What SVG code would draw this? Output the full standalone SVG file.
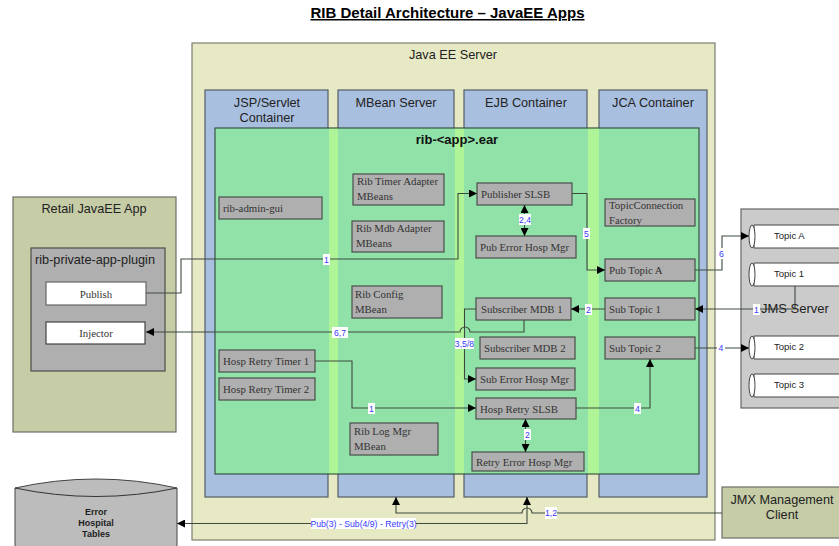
<svg xmlns="http://www.w3.org/2000/svg" width="839" height="546" viewBox="0 0 839 546">
<style>
text{font-family:"Liberation Sans",Arial,sans-serif;fill:#222}
.sv{font-size:12.700px;text-anchor:middle}
.b{fill:#afafaf;stroke:#4a4f4a;stroke-width:1.2}
.bt{font-family:"Liberation Serif","Times New Roman",serif;font-size:10.800px;fill:#333}
.ct{fill:#a9bfe0;stroke:#555e66;stroke-width:1.2}
.lb{fill:#fff}
.lt{font-size:8.700px;fill:#3a3aff;text-anchor:middle}
.c{fill:none;stroke:#3f4a3f;stroke-width:1.1}
.tp{font-size:9.500px}
</style>
<defs>
<marker id="a" markerWidth="9" markerHeight="8" refX="8" refY="4" orient="auto-start-reverse" markerUnits="userSpaceOnUse"><path d="M0 0L8 4L0 8Z" fill="#000"/></marker>
</defs>
<text x="447.500" y="18" style="font-size:15px;font-weight:bold;text-anchor:middle;text-decoration:underline;fill:#000">RIB Detail Architecture – JavaEE Apps</text>

<g id="retail-app"><rect x="13" y="197" width="163" height="235" fill="#c6cca6" stroke="#6c7066" stroke-width="1.2"/><text class="sv" x="94" y="213">Retail JavaEE App</text></g>
<g id="plugin"><rect x="31" y="248" width="134" height="123" class="b"/><text class="sv" x="95" y="264">rib-private-app-plugin</text></g>
<g id="publish"><rect x="46" y="282" width="100" height="23" fill="#fff" stroke="#666" stroke-width="1.2"/><text class="bt" x="96" y="298" text-anchor="middle">Publish</text></g>
<g id="injector"><rect x="46" y="322" width="99" height="22" fill="#fff" stroke="#444" stroke-width="1.2"/><text class="bt" x="96" y="337" text-anchor="middle">Injector</text></g>

<g id="java-ee-server"><rect x="192" y="43" width="523" height="497" fill="#e6e9c4" stroke="#7c7f70" stroke-width="1.2"/><text class="sv" x="453" y="59">Java EE Server</text></g>
<g id="jsp-container"><rect x="205" y="90" width="123" height="407" class="ct"/><text class="sv" x="267" y="107">JSP/Servlet</text><text class="sv" x="267" y="122">Container</text></g>
<g id="mbean-server"><rect x="338" y="90" width="116" height="407" class="ct"/><text class="sv" x="396" y="107">MBean Server</text></g>
<g id="ejb-container"><rect x="464" y="90" width="123" height="407" class="ct"/><text class="sv" x="526" y="107">EJB Container</text></g>
<g id="jca-container"><rect x="599" y="90" width="108" height="407" class="ct"/><text class="sv" x="653" y="107">JCA Container</text></g>
<g id="ear"><rect x="215" y="128" width="484" height="346" fill="#90e2a8"/>
<rect x="329" y="128" width="9" height="346" fill="#aff598"/><rect x="455" y="128" width="9" height="346" fill="#aff598"/><rect x="588" y="128" width="11" height="346" fill="#aff598"/>
<rect x="215" y="128" width="484" height="346" fill="none" stroke="#2f4a3a" stroke-width="1.1"/><text x="457" y="144" style="font-size:13px;font-weight:bold;text-anchor:middle;fill:#111">rib-&lt;app&gt;.ear</text></g>

<g id="rib-admin-gui"><rect x="219" y="197" width="103" height="22" class="b"/><text class="bt" x="223" y="212">rib-admin-gui</text></g>
<g id="hosp-timer-1"><rect x="219" y="350" width="96" height="22" class="b"/><text class="bt" x="223" y="365">Hosp Retry Timer 1</text></g>
<g id="hosp-timer-2"><rect x="219" y="378" width="96" height="22" class="b"/><text class="bt" x="223" y="393">Hosp Retry Timer 2</text></g>
<g id="timer-adapter"><rect x="353" y="174" width="91" height="31" class="b"/><text class="bt" x="357" y="185">Rib Timer Adapter</text><text class="bt" x="357" y="200">MBeans</text></g>
<g id="mdb-adapter"><rect x="352" y="221" width="92" height="31" class="b"/><text class="bt" x="356" y="232">Rib Mdb Adapter</text><text class="bt" x="356" y="247">MBeans</text></g>
<g id="config-mbean"><rect x="352" y="286" width="90" height="32" class="b"/><text class="bt" x="355" y="298">Rib Config</text><text class="bt" x="355" y="313">MBean</text></g>
<g id="log-mbean"><rect x="350" y="423" width="88" height="32" class="b"/><text class="bt" x="354" y="435">Rib Log Mgr</text><text class="bt" x="354" y="450">MBean</text></g>
<g id="publisher-slsb"><rect x="477" y="183" width="95" height="22" class="b"/><text class="bt" x="481" y="198">Publisher SLSB</text></g>
<g id="pub-error"><rect x="476" y="236" width="100" height="22" class="b"/><text class="bt" x="480" y="251">Pub Error Hosp Mgr</text></g>
<g id="subscriber-1"><rect x="476" y="298" width="95" height="22" class="b"/><text class="bt" x="481" y="313">Subscriber MDB 1</text></g>
<g id="subscriber-2"><rect x="480" y="337" width="95" height="22" class="b"/><text class="bt" x="484" y="352">Subscriber MDB 2</text></g>
<g id="sub-error"><rect x="476" y="368" width="99" height="22" class="b"/><text class="bt" x="480" y="383">Sub Error Hosp Mgr</text></g>
<g id="hosp-slsb"><rect x="476" y="398" width="100" height="21" class="b"/><text class="bt" x="480" y="413">Hosp Retry SLSB</text></g>
<g id="retry-error"><rect x="472" y="452" width="112" height="19" class="b"/><text class="bt" x="476" y="466">Retry Error Hosp Mgr</text></g>
<g id="tcf"><rect x="605" y="199" width="90" height="27" class="b"/><text class="bt" x="609" y="209">TopicConnection</text><text class="bt" x="609" y="224">Factory</text></g>
<g id="pub-topic-a"><rect x="605" y="259" width="90" height="22" class="b"/><text class="bt" x="609" y="274">Pub Topic A</text></g>
<g id="sub-topic-1"><rect x="605" y="298" width="90" height="22" class="b"/><text class="bt" x="609" y="313">Sub Topic 1</text></g>
<g id="sub-topic-2"><rect x="605" y="337" width="90" height="22" class="b"/><text class="bt" x="609" y="352">Sub Topic 2</text></g>

<g id="jms-server"><rect x="741" y="209" width="100" height="199" fill="#cbcbcb" stroke="#666" stroke-width="1.2"/></g>
<g id="topic-a"><path d="M754 225H841V248H754Z" fill="#fff" stroke="#444"/><ellipse cx="752" cy="236.500" rx="3" ry="11.500" fill="#fff" stroke="#444"/><text class="tp" x="774" y="239">Topic A</text></g>
<g id="topic-1"><path d="M754 263H841V286H754Z" fill="#fff" stroke="#444"/><ellipse cx="752" cy="274.500" rx="3" ry="11.500" fill="#fff" stroke="#444"/><text class="tp" x="774" y="277">Topic 1</text></g>
<g id="topic-2"><path d="M754 336H841V359H754Z" fill="#fff" stroke="#444"/><ellipse cx="752" cy="347.500" rx="3" ry="11.500" fill="#fff" stroke="#444"/><text class="tp" x="774" y="350">Topic 2</text></g>
<g id="topic-3"><path d="M754 374H841V397H754Z" fill="#fff" stroke="#444"/><ellipse cx="752" cy="385.500" rx="3" ry="11.500" fill="#fff" stroke="#444"/><text class="tp" x="774" y="388">Topic 3</text></g>

<g id="jmx-client"><rect x="722" y="487" width="120" height="51" fill="#c6cca6" stroke="#6c7066" stroke-width="1.2"/><text class="sv" x="782" y="504">JMX Management</text><text class="sv" x="782" y="519">Client</text></g>
<g id="error-tables"><path d="M15 488Q96 470 177 488V548H15Z" fill="#bcbcbc" stroke="#444"/><path d="M15 488Q96 505 177 488" fill="none" stroke="#333"/>
<g style="font-size:9px;font-weight:bold;text-anchor:middle"><text x="96" y="515">Error</text><text x="96" y="526">Hospital</text><text x="96" y="537">Tables</text></g></g>

<g id="connectors">
<path class="c" d="M146 293H181V259H458V193.500H477" marker-end="url(#a)"/>
<path class="c" d="M524 320V332H470A5 5 0 0 0 460 332H146" marker-end="url(#a)"/>
<path class="c" d="M476 309H464.500V379H476" marker-end="url(#a)"/>
<path class="c" d="M572 193.500H587V270H605" marker-end="url(#a)"/>
<path class="c" d="M524.500 205V236" marker-start="url(#a)" marker-end="url(#a)"/>
<path class="c" d="M605 309H571" marker-end="url(#a)"/>
<path class="c" d="M795 286V309H695" marker-end="url(#a)"/>
<path class="c" d="M695 270H722V236H749" marker-end="url(#a)"/>
<path class="c" d="M695 348H749" marker-end="url(#a)"/>
<path class="c" d="M315 361H352V408H476" marker-end="url(#a)"/>
<path class="c" d="M576 408H650V359" marker-end="url(#a)"/>
<path class="c" d="M525.500 419V452" marker-start="url(#a)" marker-end="url(#a)"/>
<path class="c" d="M722 513H532A5 5 0 0 0 522 513H396V497" marker-end="url(#a)"/>
<path class="c" d="M527 497V523.500H177" marker-start="url(#a)" marker-end="url(#a)"/>
<g id="connector-labels">
<rect class="lb" x="323" y="254" width="7" height="11"/><text class="lt" x="326.500" y="262.500">1</text>
<rect class="lb" x="332" y="327" width="16" height="11"/><text class="lt" x="340" y="335.500">6,7</text>
<rect class="lb" x="455" y="338" width="19" height="11"/><text class="lt" x="464.500" y="346.500">3,5/8</text>
<rect class="lb" x="583" y="228" width="7" height="11"/><text class="lt" x="586.500" y="236.500">5</text>
<rect class="lb" x="519" y="214" width="12" height="11"/><text class="lt" x="525" y="222.500">2,4</text>
<rect class="lb" x="585" y="304" width="7" height="11"/><text class="lt" x="588.500" y="312.500">2</text>
<rect class="lb" x="753" y="304" width="7" height="11"/><text class="lt" x="756.500" y="312.500">1</text>
<rect class="lb" x="718" y="248" width="7" height="11"/><text class="lt" x="721.500" y="256.500">6</text>
<rect class="lb" x="717" y="342" width="8" height="11"/><text class="lt" x="721" y="351">4</text>
<rect class="lb" x="368" y="403" width="7" height="11"/><text class="lt" x="371.500" y="411.500">1</text>
<rect class="lb" x="634" y="403" width="7" height="11"/><text class="lt" x="637.500" y="411.500">4</text>
<rect class="lb" x="524" y="429" width="7" height="11"/><text class="lt" x="527.500" y="437.500">2</text>
<rect class="lb" x="545" y="507" width="12" height="12"/><text class="lt" x="551" y="516">1,2</text>
<rect class="lb" x="311" y="518" width="105" height="11"/><text class="lt" x="363.500" y="526.500">Pub(3) - Sub(4/9) - Retry(3)</text>
</g>
</g>
<g id="jms-label"><text x="761" y="313" style="font-size:13px">JMS Server</text></g>
</svg>
